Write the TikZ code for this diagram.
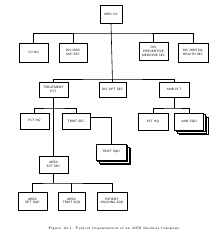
\documentclass[tikz,border=0pt]{standalone}
\usetikzlibrary{shadows}
\begin{document}
\begin{tikzpicture}[x=1pt,y=-1pt,
  unit/.style={draw=black,line width=0.5pt,fill=white,align=center,inner sep=0.5pt,
    font=\sffamily\fontsize{3.2}{3.6}\selectfont},
  stack/.style={copy shadow={shadow xshift=4.5pt,shadow yshift=-4.5pt,draw=black,line width=0.5pt,fill=white},
    copy shadow={shadow xshift=3pt,shadow yshift=-3pt,draw=black,line width=0.5pt,fill=white},
    copy shadow={shadow xshift=1.5pt,shadow yshift=-1.5pt,draw=black,line width=0.5pt,fill=white}},
  link/.style={draw=black,line width=0.6pt}]
\useasboundingbox (0,0) rectangle (214,236);
\fill[white] (0,0) rectangle (214,236);

\node[unit,minimum width=22pt,minimum height=18pt] (medco) at (111,14) {MED CO};
\node[unit,minimum width=29pt,minimum height=19pt] (cohq) at (33.5,52.5) {CO HQ};
\node[unit,minimum width=28pt,minimum height=19pt] (divmed) at (73,52.5) {DIV MED\\SUP SEC};
\node[unit,minimum width=29pt,minimum height=18pt] (prev) at (153.5,51.5) {DIV\\PREVENTIVE\\MEDICINE SEC};
\node[unit,minimum width=30pt,minimum height=19pt] (mental) at (193,52.5) {DIV MENTAL\\HEALTH SEC};

\node[unit,minimum width=29pt,minimum height=15pt] (treat) at (53.5,89.5) {TREATMENT\\PLT};
\node[unit,minimum width=27pt,minimum height=15pt] (divopt) at (112.5,89.5) {DIV OPT SEC};
\node[unit,minimum width=30pt,minimum height=15pt] (ambplt) at (174,89.5) {AMB PLT};

\node[unit,minimum width=29pt,minimum height=16pt] (plthqa) at (34.5,121) {PLT HQ};
\node[unit,minimum width=28pt,minimum height=16pt] (trmtsec) at (76,121) {TRMT SEC};
\node[unit,minimum width=30pt,minimum height=17pt] (plthqb) at (153,121.5) {PLT HQ};
\node[unit,stack,minimum width=29pt,minimum height=17pt] (ambsqd) at (189,121.5) {AMB SQD};

\node[unit,stack,minimum width=30pt,minimum height=16pt] (trmtsqd) at (111,152) {TRMT SQD};
\node[unit,minimum width=29pt,minimum height=17pt] (areaspt) at (53.5,164.5) {AREA\\SPT SEC};

\node[unit,minimum width=29pt,minimum height=18pt] (areasptsqd) at (32.5,201) {AREA\\SPT SQD};
\node[unit,minimum width=27pt,minimum height=18pt] (areatrmt) at (71.5,201) {AREA\\TRMT SQD};
\node[unit,minimum width=30pt,minimum height=18pt] (patient) at (112,201) {PATIENT\\HOLDING SQD};

\coordinate (b1) at (111,33);
\coordinate (b2) at (111,79);
\coordinate (b3) at (53.5,108);
\coordinate (b4) at (174,108);
\coordinate (b5) at (53.5,183);

% top level
\draw[link] (medco.south) -- (divopt.north);
\draw[link] (cohq.north) |- (b1) -| (mental.north);
\draw[link] (divmed.north) -- (divmed.north |- b1);
\draw[link] (prev.north) -- (prev.north |- b1);
\draw[link] (treat.north) |- (b2) -| (ambplt.north);
% treatment platoon
\draw[link] (treat.south) -- (areaspt.north);
\draw[link] (plthqa.north) |- (b3) -| (trmtsec.north);
\draw[link] (trmtsec.east |- 0,117) -| (trmtsqd.north);
% amb platoon
\draw[link] (ambplt.south) -- (b4);
\draw[link] (plthqb.north) |- (b4) -| (ambsqd.north);
% area support
\draw[link] (areaspt.south) -- (b5);
\draw[link] (areasptsqd.north) |- (b5) -| (patient.north);
\draw[link] (areatrmt.north) -- (areatrmt.north |- b5);

\node[font=\fontsize{3.4}{4}\selectfont] (caption) at (114,229) {Figure 10-1. Typical Organization of an MSB Medical Company};
\end{tikzpicture}
\end{document}
